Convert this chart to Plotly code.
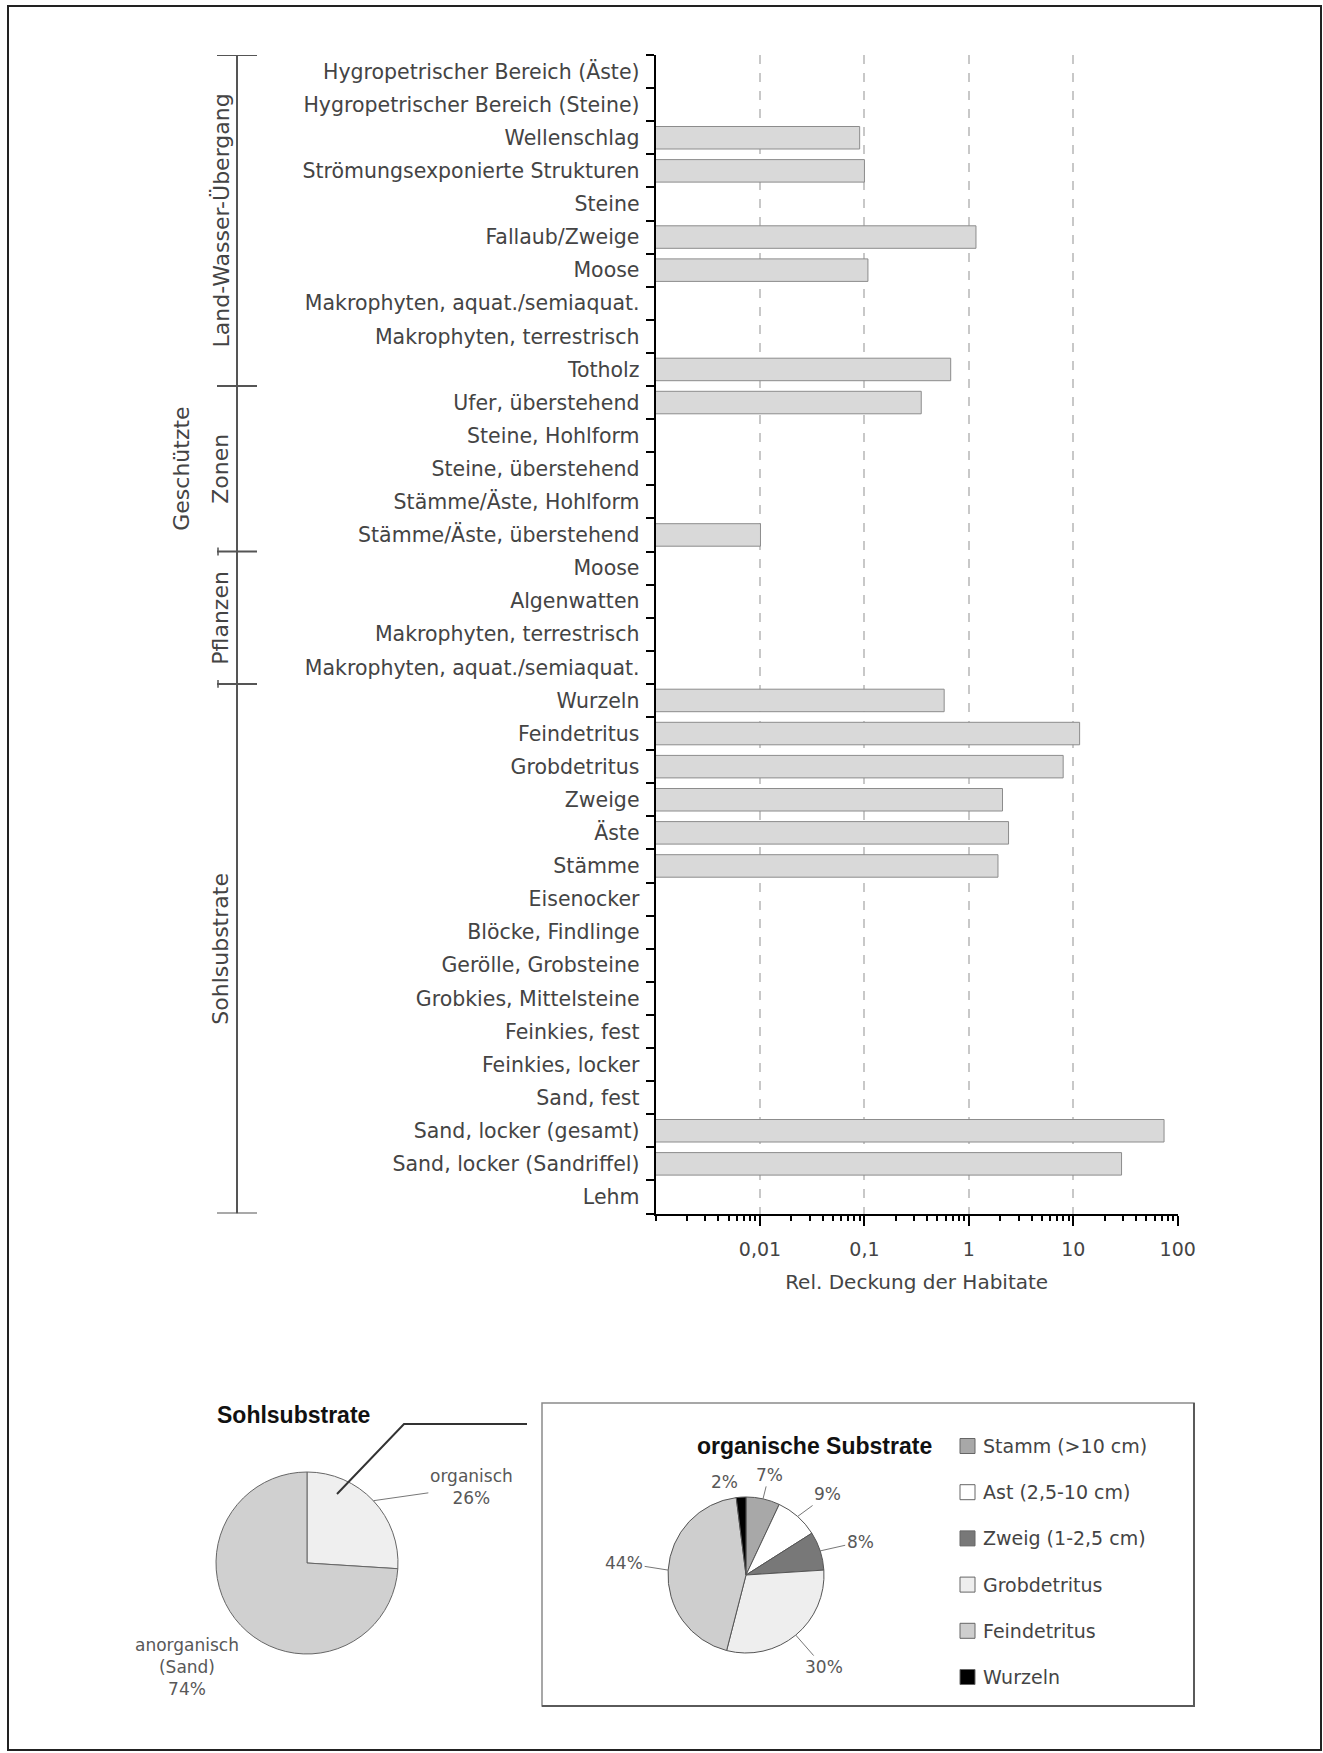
import math
import plotly.graph_objects as go

W, H = 1323, 1753

# Habitat categories, top to bottom
habitats = [
    "Hygropetrischer Bereich (Äste)",
    "Hygropetrischer Bereich (Steine)",
    "Wellenschlag",
    "Strömungsexponierte Strukturen",
    "Steine",
    "Fallaub/Zweige",
    "Moose",
    "Makrophyten, aquat./semiaquat.",
    "Makrophyten, terrestrisch",
    "Totholz",
    "Ufer, überstehend",
    "Steine, Hohlform",
    "Steine, überstehend",
    "Stämme/Äste, Hohlform",
    "Stämme/Äste, überstehend",
    "Moose",
    "Algenwatten",
    "Makrophyten, terrestrisch",
    "Makrophyten, aquat./semiaquat.",
    "Wurzeln",
    "Feindetritus",
    "Grobdetritus",
    "Zweige",
    "Äste",
    "Stämme",
    "Eisenocker",
    "Blöcke, Findlinge",
    "Gerölle, Grobsteine",
    "Grobkies, Mittelsteine",
    "Feinkies, fest",
    "Feinkies, locker",
    "Sand, fest",
    "Sand, locker (gesamt)",
    "Sand, locker (Sandriffel)",
    "Lehm",
]

# Relative coverage (%) per habitat; None = not present
coverage = [
    None, None, 0.09, 0.10, None, 1.17, 0.108, None, None, 0.67,
    0.35, None, None, None, 0.0101,
    None, None, None, None,
    0.58, 11.5, 8.0, 2.1, 2.4, 1.9, None, None, None, None, None, None, None, 74.0, 29.0, None,
]

group_names = [["Land-Wasser-Übergang"], ["Geschützte", "Zonen"], ["Pflanzen"], ["Sohlsubstrate"]]
group_sizes = [10, 5, 4, 16]

x_tickvals = [0.01, 0.1, 1, 10, 100]
x_ticktext = ["0,01", "0,1", "1", "10", "100"]
x_title = "Rel. Deckung der Habitate"

sohl_title = "Sohlsubstrate"
sohl_labels = ["organisch", "anorganisch (Sand)"]
sohl_values = [26, 74]
sohl_colors = ["#efefef", "#d0d0d0"]

org_title = "organische Substrate"
org_labels = ["Stamm (>10 cm)", "Ast (2,5-10 cm)", "Zweig (1-2,5 cm)", "Grobdetritus", "Feindetritus", "Wurzeln"]
org_values = [7, 9, 8, 30, 44, 2]
org_colors = ["#a8a8a8", "#ffffff", "#787878", "#eeeeee", "#cecece", "#000000"]

TEXT = "#444444"
LIGHT = "#585858"
FONT = "DejaVu Sans"
BOLD = "Liberation Sans"


def px(x):
    return x / W


def py(y):
    return 1 - y / H


def label(text, x, y, size, color=TEXT, family=FONT, **kw):
    d = dict(text=text, xref="paper", yref="paper", x=px(x), y=py(y), showarrow=False,
             xanchor="center", yanchor="middle", font=dict(family=family, size=size, color=color))
    d.update(kw)
    return d


n = len(habitats)
plot_left, plot_right, plot_top, plot_bottom = 655.6, 1177.7, 55, 1213.5

fig = go.Figure()

fig.add_trace(go.Bar(
    y=list(range(n)), x=coverage, orientation="h", width=0.68,
    marker=dict(color="#d9d9d9", line=dict(color="#8c8c8c", width=1)),
    hovertemplate="%{text}: %{x}<extra></extra>", text=habitats, textposition="none",
    showlegend=False,
))

# Pie geometry (pixel centre and radius)
sohl_c, sohl_r = (307, 1563), 91
org_c, org_r = (746, 1575), 78


def pie_domain(c, r):
    return dict(x=[px(c[0] - r), px(c[0] + r)], y=[py(c[1] + r), py(c[1] - r)])


fig.add_trace(go.Pie(
    values=sohl_values, labels=sohl_labels, sort=False, direction="clockwise", rotation=0,
    marker=dict(colors=sohl_colors, line=dict(color="#666666", width=1)),
    textinfo="none", domain=pie_domain(sohl_c, sohl_r), showlegend=False,
))
fig.add_trace(go.Pie(
    values=org_values, labels=org_labels, sort=False, direction="clockwise", rotation=0,
    marker=dict(colors=org_colors, line=dict(color="#555555", width=1)),
    textinfo="none", domain=pie_domain(org_c, org_r), showlegend=False,
))

shapes = []
annotations = []

# Outer frame
shapes.append(dict(type="rect", xref="paper", yref="paper", x0=px(8), x1=px(1321), y0=py(1750), y1=py(6),
                   line=dict(color="#222222", width=2)))

# Group brackets left of the category labels
bx = 237
shapes.append(dict(type="line", xref="paper", yref="y", x0=px(bx), x1=px(bx), y0=-0.5, y1=n - 0.5,
                   line=dict(color="#555555", width=2)))
edges = [-0.5]
for s in group_sizes:
    edges.append(edges[-1] + s)
for e in edges:
    shapes.append(dict(type="line", xref="paper", yref="y", x0=px(217), x1=px(257), y0=e, y1=e,
                       line=dict(color="#555555", width=2)))
for e in edges[2:4]:
    shapes.append(dict(type="line", xref="paper", yref="y", x0=px(218), x1=px(218), y0=e - 0.12, y1=e + 0.12,
                       line=dict(color="#555555", width=1.5)))
for gi, names in enumerate(group_names):
    yc = (edges[gi] + edges[gi + 1]) / 2
    xs = [221] if len(names) == 1 else [182, 221]
    for name, xpos in zip(names, xs):
        annotations.append(dict(text=name, xref="paper", yref="y", x=px(xpos), y=yc, textangle=-90,
                                showarrow=False, xanchor="center", yanchor="middle",
                                font=dict(family=FONT, size=22, color=TEXT)))

# Pie titles
annotations.append(label("<b>%s</b>" % sohl_title, 293, 1415, 23, color="#111111", family=BOLD))
annotations.append(label("<b>%s</b>" % org_title, 814, 1446, 23, color="#111111", family=BOLD))


def slice_edge(c, r, values, i, scale=1.0):
    total = float(sum(values))
    mid = (sum(values[:i]) + values[i] / 2) / total * 2 * math.pi
    return c[0] + r * scale * math.sin(mid), c[1] - r * scale * math.cos(mid)


# Sohlsubstrate labels
hx, hy = slice_edge(sohl_c, sohl_r, sohl_values, 0)
annotations.append(dict(text="%s<br>%d%%" % (sohl_labels[0], sohl_values[0]), xref="paper", yref="paper",
                        x=px(hx), y=py(hy), ax=98, ay=-14, showarrow=True, arrowhead=0, arrowwidth=1,
                        xanchor="center", yanchor="middle",
                        arrowcolor="#777777", font=dict(family=FONT, size=17, color=LIGHT)))
annotations.append(label("%s<br>%d%%" % (sohl_labels[1].replace(" ", "<br>"), sohl_values[1]),
                         187, 1667, 17, color=LIGHT))

# Callout from the organic slice towards the detail box
shapes.append(dict(type="path", xref="paper", yref="paper",
                   path="M %f,%f L %f,%f L %f,%f" % (px(sohl_c[0] + 30), py(sohl_c[1] - 69),
                                                     px(404), py(1424), px(527), py(1424)),
                   line=dict(color="#333333", width=2)))

# Detail box
shapes.append(dict(type="rect", xref="paper", yref="paper", x0=px(542), x1=px(1194), y0=py(1706), y1=py(1403),
                   line=dict(color="#8a8a8a", width=1.5)))
shapes.append(dict(type="path", xref="paper", yref="paper",
                   path="M %f,%f L %f,%f L %f,%f" % (px(1194), py(1403), px(1194), py(1706), px(542), py(1706)),
                   line=dict(color="#5a5a5a", width=2)))

# Organic substrate percentage labels
offsets = [(6, -24), (30, -22), (40, -9), (28, 32), (-44, -7), (-17, -15)]
for i, v in enumerate(org_values):
    hx, hy = slice_edge(org_c, org_r, org_values, i)
    ax, ay = offsets[i]
    if v > 3:
        annotations.append(dict(text="%d%%" % v, xref="paper", yref="paper", x=px(hx), y=py(hy), ax=ax, ay=ay,
                                showarrow=True, arrowhead=0, arrowwidth=1, arrowcolor="#777777",
                                xanchor="center", yanchor="middle",
                                font=dict(family=FONT, size=17, color=LIGHT)))
    else:
        annotations.append(label("%d%%" % v, hx + ax, hy + ay, 17, color=LIGHT))

# Legend for the organic substrates
for i, (lab, col) in enumerate(zip(org_labels, org_colors)):
    yc = 1446 + i * 46.2
    shapes.append(dict(type="rect", xref="paper", yref="paper", x0=px(960), x1=px(975), y0=py(yc + 7.5),
                       y1=py(yc - 7.5), fillcolor=col, line=dict(color="#666666", width=1)))
    annotations.append(label(lab, 981, yc, 19, xanchor="left"))

fig.update_layout(
    width=W, height=H, autosize=False, margin=dict(l=0, r=0, t=0, b=0, autoexpand=False),
    paper_bgcolor="white", plot_bgcolor="white", showlegend=False,
    xaxis=dict(
        type="log", range=[-3, 2], domain=[px(plot_left), px(plot_right)], anchor="y",
        tickmode="array", tickvals=x_tickvals, ticktext=x_ticktext,
        ticks="outside", ticklen=10, tickwidth=1.5, tickcolor="black",
        showline=True, linecolor="black", linewidth=2,
        showgrid=True, gridcolor="#c8c8c8", griddash="dash", gridwidth=1.5,
        zeroline=False, ticklabelstandoff=8,
        tickfont=dict(family=FONT, size=19, color=TEXT),
        minor=dict(dtick="D1", ticks="outside", ticklen=5, tickwidth=1.5, tickcolor="black", showgrid=False),
        title=dict(text=x_title, standoff=16, font=dict(family=FONT, size=20, color=TEXT)),
    ),
    yaxis=dict(
        range=[n - 0.5, -0.5], domain=[py(plot_bottom), py(plot_top)], anchor="x",
        tickmode="array", tickvals=list(range(n)), ticktext=habitats, ticks="",
        showline=True, linecolor="black", linewidth=2, showgrid=False, zeroline=False,
        ticklabelstandoff=10, tickfont=dict(family=FONT, size=20.5, color=TEXT),
        minor=dict(tickmode="array", tickvals=[i - 0.5 for i in range(n + 1)], ticks="outside",
                   ticklen=8, tickwidth=2, tickcolor="black", showgrid=False),
    ),
    shapes=shapes, annotations=annotations,
)

fig.write_html("out.html", config={"responsive": False})
